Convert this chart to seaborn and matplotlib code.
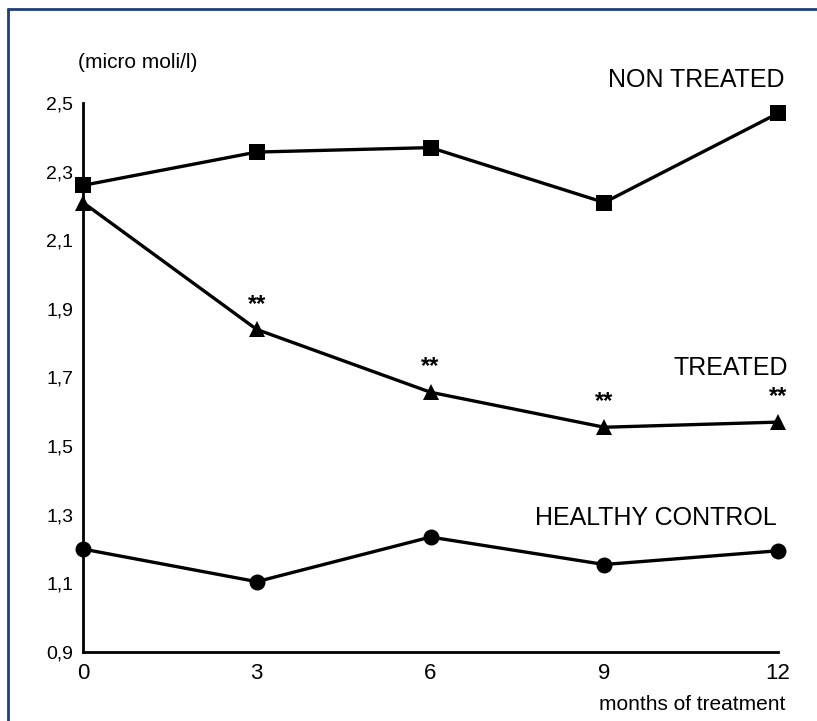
import matplotlib
matplotlib.use("Agg")
import matplotlib.pyplot as plt
import seaborn as sns
import pandas as pd
from matplotlib.lines import Line2D

months = [0, 3, 6, 9, 12]
non_treated = [2.26, 2.357, 2.37, 2.21, 2.47]
treated = [2.21, 1.84, 1.657, 1.555, 1.57]
healthy = [1.20, 1.105, 1.235, 1.155, 1.195]
y_ticks = [0.9, 1.1, 1.3, 1.5, 1.7, 1.9, 2.1, 2.3, 2.5]
y_tick_labels = ["0,9", "1,1", "1,3", "1,5", "1,7", "1,9", "2,1", "2,3", "2,5"]
x_tick_labels = ["0", "3", "6", "9", "12"]
significant_months = [3, 6, 9, 12]

sns.set_theme(style="white")
plt.rcParams["font.family"] = ["Liberation Sans", "DejaVu Sans"]

df = pd.DataFrame({
    "month": months * 3,
    "value": non_treated + treated + healthy,
    "group": ["NON TREATED"] * 5 + ["TREATED"] * 5 + ["HEALTHY CONTROL"] * 5,
})

fig = plt.figure(figsize=(8.17, 7.21), dpi=100)
ax = fig.add_axes([83 / 817, 1 - 652 / 721, (778 - 83) / 817, (652 - 103) / 721])

sns.lineplot(
    data=df, x="month", y="value", hue="group", style="group",
    markers={"NON TREATED": "s", "TREATED": "^", "HEALTHY CONTROL": "o"},
    dashes=False, palette=["black", "black", "black"],
    markersize=11.5, linewidth=2.4, markeredgewidth=0, legend=False, ax=ax,
)
for ln in ax.lines:
    ln.set_clip_on(False)

ax.set_xlim(0, 12)
ax.set_ylim(0.9, 2.5)
ax.set_xticks(months)
ax.set_xticklabels(x_tick_labels, fontsize=16)
ax.set_yticks(y_ticks)
ax.set_yticklabels(y_tick_labels, fontsize=14)
ax.set_xlabel("")
ax.set_ylabel("")
ax.tick_params(axis="y", direction="out", length=5, width=1.5, color="black", pad=2, labelcolor="black")
ax.tick_params(axis="x", direction="out", length=4, width=1.5, color="black", pad=4, labelcolor="black")
sns.despine(ax=ax)
for s in ["left", "bottom"]:
    ax.spines[s].set_color("black")
    ax.spines[s].set_linewidth(2)

# significance stars
for m in significant_months:
    v = treated[months.index(m)]
    ax.annotate("**", (m, v), xytext=(0, 10), textcoords="offset points",
                ha="center", va="bottom", fontsize=17, fontweight="bold", color="black",
                annotation_clip=False)

fig.text(785 / 817, 1 - 80 / 721, "NON TREATED", ha="right", va="center", fontsize=18, color="black")
fig.text(788 / 817, 1 - 368 / 721, "TREATED", ha="right", va="center", fontsize=18, color="black")
fig.text(777 / 817, 1 - 518 / 721, "HEALTHY CONTROL", ha="right", va="center", fontsize=18, color="black")
fig.text(78 / 817, 1 - 62 / 721, "(micro moli/l)", ha="left", va="center", fontsize=15, color="black")
fig.text(785 / 817, 1 - 705 / 721, "months of treatment", ha="right", va="center", fontsize=15, color="black")

border = "#1f3f78"
fig.add_artist(Line2D([8 / 817, 8 / 817], [0, 1 - 9 / 721], transform=fig.transFigure, color=border, linewidth=2))
fig.add_artist(Line2D([8 / 817, 1], [1 - 9 / 721, 1 - 9 / 721], transform=fig.transFigure, color=border, linewidth=2))

fig.savefig("out.png", dpi=100)
